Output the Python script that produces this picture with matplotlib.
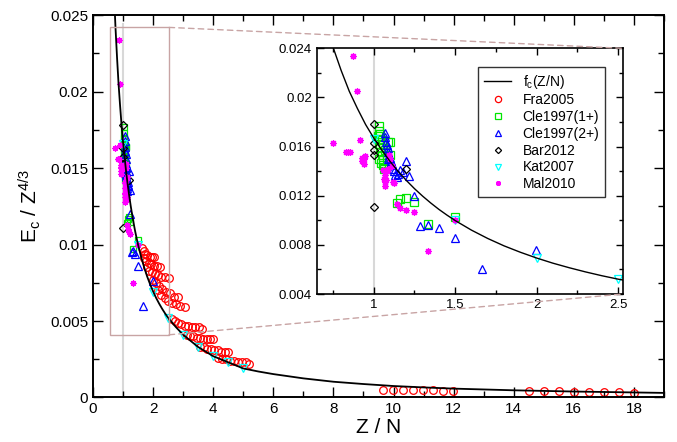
import matplotlib
matplotlib.use('Agg')
import matplotlib.pyplot as plt
from matplotlib.patches import Rectangle, ConnectionPatch
from matplotlib.ticker import MultipleLocator, FormatStrFormatter

plt.rcParams['font.family'] = ['Liberation Sans', 'DejaVu Sans']
plt.rcParams['mathtext.default'] = 'regular'

# f_c(Z/N) curve
fc_x = [0.70, 0.75, 0.80, 0.85, 0.90, 0.95, 1.0, 1.05, 1.1, 1.15, 1.2, 1.25, 1.3, 1.35, 1.4, 1.45,
        1.5, 1.6, 1.7, 1.8, 1.9, 2.0, 2.1, 2.2, 2.3, 2.4, 2.5, 2.75,
        3.0, 3.5, 4.0, 4.5, 5.0, 5.5, 6.0, 7.0, 8.0, 9.0, 10.0, 11.0, 12.0, 14.0, 16.0, 18.0, 19.0]
fc_y = [0.0263, 0.0241, 0.0222, 0.0205, 0.0191, 0.0178, 0.0167, 0.01571, 0.0148, 0.01398, 0.01325,
        0.01258, 0.01197, 0.01141, 0.01089, 0.01042, 0.00998, 0.00920, 0.00852, 0.00792, 0.00740,
        0.00693, 0.00651, 0.00614, 0.00580, 0.00549, 0.00521, 0.00462,
        0.0041, 0.0033, 0.0027, 0.0023, 0.0019, 0.0017,
        0.00153, 0.00125, 0.00103, 0.00088, 0.00075, 0.00066, 0.00058, 0.00047, 0.00039, 0.00033, 0.0003]

# Fra2005
fra_x = [1.62, 1.68, 1.74, 1.80, 1.88, 1.96, 2.04,
         1.70, 1.77, 1.85, 1.94, 2.03, 2.12, 2.22,
         1.78, 1.86, 1.95, 2.05, 2.15, 2.27, 2.40, 2.52,
         2.00, 2.10, 2.20, 2.30, 2.42, 2.55, 2.70, 2.84,
         2.15, 2.27, 2.39, 2.51, 2.63, 2.76, 2.90, 3.06,
         2.62, 2.72, 2.83, 2.94, 3.05, 3.16, 3.28, 3.40, 3.51, 3.62,
         3.12, 3.23, 3.34, 3.45, 3.56, 3.67, 3.78, 3.89, 4.00,
         3.56, 3.68, 3.79, 3.91, 4.03, 4.15, 4.27, 4.39, 4.50,
         4.17, 4.30, 4.43, 4.56, 4.69, 4.82, 4.95, 5.08, 5.20,
         9.66, 9.99, 10.32, 10.65, 10.99, 11.32, 11.65, 11.98,
         14.5, 15.0, 15.5, 16.0, 16.5, 17.0, 17.5, 18.0]
fra_y = [0.0098, 0.0096, 0.0094, 0.0093, 0.0092, 0.0092, 0.0092,
         0.0091, 0.0089, 0.0088, 0.0087, 0.0086, 0.0086, 0.0085,
         0.0085, 0.0083, 0.0082, 0.0081, 0.0080, 0.0079, 0.0079, 0.0078,
         0.0077, 0.0075, 0.0073, 0.0071, 0.0069, 0.0068, 0.0066, 0.0066,
         0.0070, 0.0067, 0.0065, 0.0063, 0.0062, 0.0061, 0.0060, 0.0059,
         0.0051, 0.0050, 0.0049, 0.0048, 0.0047, 0.0047, 0.0046, 0.0046, 0.0046, 0.0045,
         0.0041, 0.0040, 0.0040, 0.0039, 0.0039, 0.0038, 0.0038, 0.0038, 0.0038,
         0.0033, 0.0033, 0.0032, 0.0032, 0.0031, 0.0031, 0.0030, 0.0030, 0.0030,
         0.0026, 0.0025, 0.0025, 0.0024, 0.0024, 0.0023, 0.0023, 0.0023, 0.0022,
         0.00052, 0.00051, 0.00050, 0.00049, 0.00047, 0.00046, 0.00044, 0.00042,
         0.00045, 0.00043, 0.00041, 0.00039, 0.00037, 0.00035, 0.00033, 0.00031]

# Cle1997(1+)
cle1_x = [1.03, 1.03, 1.025, 1.03, 1.035, 1.04, 1.045, 1.05, 1.055, 1.06, 1.065, 1.04, 1.05,
          1.06, 1.09, 1.10, 1.07, 1.08, 1.10, 1.035, 1.045,
          1.14, 1.163, 1.196, 1.245, 1.333, 1.50]
cle1_y = [0.0177, 0.0173, 0.0169, 0.0166, 0.0162, 0.0159, 0.0156, 0.0153, 0.0149, 0.0145, 0.0142,
          0.0170, 0.0165, 0.0161, 0.0164, 0.0164, 0.0157, 0.0153, 0.0153, 0.0150, 0.0147,
          0.0114, 0.0117, 0.0118, 0.0115, 0.0097, 0.0103]

# Cle1997(2+)
cle2_x = [1.069, 1.072, 1.078, 1.08, 1.085, 1.09, 1.095, 1.10, 1.105, 1.11, 1.12, 1.125, 1.13,
          1.14, 1.15, 1.16, 1.177, 1.198, 1.218, 1.247, 1.284, 1.333, 1.398, 1.498, 1.664, 1.997,
          1.09, 1.10]
cle2_y = [0.0171, 0.0168, 0.0164, 0.0161, 0.0159, 0.0156, 0.0153, 0.0151, 0.0148, 0.0146, 0.0142,
          0.0140, 0.0137, 0.0135, 0.0138, 0.0141, 0.0139, 0.0148, 0.0136, 0.0120, 0.0095, 0.0096,
          0.0094, 0.0086, 0.0060, 0.0076, 0.0150, 0.0145]

# Bar2012
bar_x = [1.0, 1.0, 1.0, 1.0, 1.0, 1.2]
bar_y = [0.0178, 0.0163, 0.0157, 0.0153, 0.0111, 0.0142]

# Kat2007
kat_x = [1.0, 1.5, 2.0, 2.5, 3.0, 3.5, 4.0, 4.5, 5.0]
kat_y = [0.0166, 0.0100, 0.0069, 0.0052, 0.0041, 0.0033, 0.0027, 0.0023, 0.0019]

# Mal2010
mal_x = [0.873, 0.898, 0.747, 0.829, 0.843, 0.853, 0.914, 0.931, 0.939, 0.929, 0.939, 0.945,
         1.06, 1.07, 1.065, 1.07, 1.068, 1.075, 1.08, 1.085, 1.095, 1.10, 1.115, 1.12, 1.125,
         1.14, 1.16, 1.20, 1.245, 1.333, 1.50]
mal_y = [0.0234, 0.0205, 0.0163, 0.0156, 0.0156, 0.0156, 0.0165, 0.0151, 0.0150, 0.0148, 0.0146, 0.0152,
         0.0141, 0.0137, 0.0134, 0.0131, 0.0128, 0.0133, 0.0140, 0.0142, 0.0153, 0.0150, 0.0144, 0.0131, 0.0130,
         0.0113, 0.0110, 0.0108, 0.0107, 0.0075, 0.0100]

star = (8, 2, 0)


def draw_data(ax, ms, lw, with_fra=True):
    ax.plot(fc_x, fc_y, color='black', lw=lw, label='f$_c$(Z/N)', zorder=3)
    fx, fy = (fra_x, fra_y) if with_fra else ([], [])
    ax.plot(fx, fy, 'o', ms=ms, mfc='none', mec='red', mew=0.9, ls='none', label='Fra2005')
    ax.plot(cle1_x, cle1_y, 's', ms=ms * 0.9, mfc='none', mec='#00e600', mew=0.9, ls='none', label='Cle1997(1+)')
    ax.plot(cle2_x, cle2_y, '^', ms=ms, mfc='none', mec='blue', mew=0.9, ls='none', label='Cle1997(2+)')
    ax.plot(bar_x, bar_y, 'D', ms=ms * 0.7, mfc='none', mec='black', mew=0.9, ls='none', label='Bar2012')
    ax.plot(kat_x, kat_y, 'v', ms=ms, mfc='none', mec='cyan', mew=0.9, ls='none', label='Kat2007')
    ax.plot(mal_x, mal_y, marker=star, ms=ms * 0.8, mec='magenta', mfc='magenta', mew=0.9, ls='none', label='Mal2010')


def style_ticks(ax, major, minor, labelsize, spine_lw):
    ax.tick_params(which='both', direction='in', top=True, right=True, width=1.0, labelsize=labelsize)
    ax.tick_params(which='major', length=major)
    ax.tick_params(which='minor', length=minor)
    for s in ax.spines.values():
        s.set_linewidth(spine_lw)


fig = plt.figure(figsize=(6.77, 4.42), dpi=100)
ax = fig.add_axes([0.1374, 0.1007, 0.8434, 0.865])

ax.vlines(1.0, 0, 0.0245, color='#d8d8d8', lw=1.5, zorder=0)
draw_data(ax, 5.5, 1.3)
ax.set_xlim(0, 19)
ax.set_ylim(0, 0.025)
ax.xaxis.set_major_locator(MultipleLocator(2))
ax.xaxis.set_minor_locator(MultipleLocator(1))
ax.yaxis.set_major_locator(MultipleLocator(0.005))
ax.yaxis.set_minor_locator(MultipleLocator(0.0025))
ax.yaxis.set_major_formatter(FormatStrFormatter('%g'))
style_ticks(ax, 7, 4, 11, 1.4)
ax.set_xlabel('Z / N', fontsize=15, labelpad=1)
ax.set_ylabel('E$_c$ / Z$^{4/3}$', fontsize=15, labelpad=5)

rect_col = '#c8a4a4'
ax.add_patch(Rectangle((0.57, 0.0041), 2.53 - 0.57, 0.0242 - 0.0041, fill=False,
                       edgecolor=rect_col, lw=1.0, zorder=5))

ins = fig.add_axes([0.4678, 0.3348, 0.4524, 0.5559])
ins.set_facecolor('white')
ins.axvline(1.0, color='#d8d8d8', lw=1.5, zorder=0)
draw_data(ins, 6, 1.0, with_fra=False)
ins.set_xlim(0.65, 2.53)
ins.set_ylim(0.004, 0.024)
ins.xaxis.set_major_locator(MultipleLocator(0.5))
ins.xaxis.set_minor_locator(MultipleLocator(0.25))
ins.yaxis.set_major_locator(MultipleLocator(0.004))
ins.yaxis.set_minor_locator(MultipleLocator(0.002))
ins.xaxis.set_major_formatter(FormatStrFormatter('%g'))
ins.yaxis.set_major_formatter(FormatStrFormatter('%g'))
style_ticks(ins, 5, 3, 9.5, 1.2)

leg = ins.legend(loc='upper right', bbox_to_anchor=(0.941, 0.924), borderaxespad=0,
                 fontsize=10, fancybox=False, framealpha=1, edgecolor='#333333',
                 handlelength=2.0, labelspacing=0.2, markerscale=0.75)
leg.get_frame().set_linewidth(1.0)

for ya, yb in [(0.0242, 1.0), (0.0041, 0.0)]:
    con = ConnectionPatch(xyA=(2.53, ya), coordsA=ax.transData,
                          xyB=(1.0, yb), coordsB=ins.transAxes,
                          color=rect_col, lw=1.0, ls=(0, (4, 3)))
    fig.add_artist(con)

fig.savefig('out.png', dpi=100)
